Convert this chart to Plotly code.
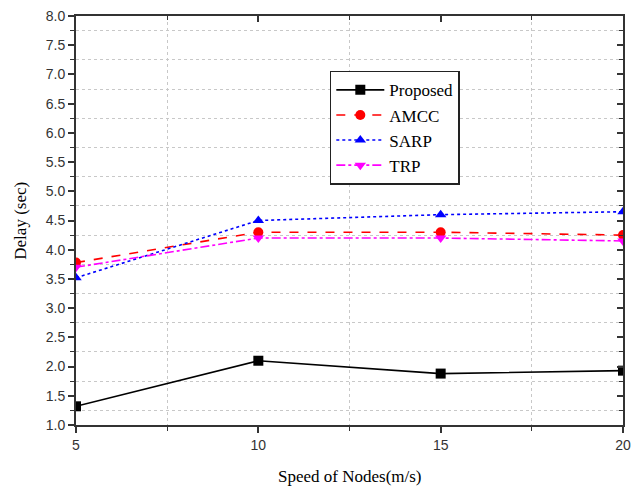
import plotly.graph_objects as go

speeds = [5, 10, 15, 20]
proposed = [1.32, 2.10, 1.88, 1.93]
amcc = [3.78, 4.30, 4.30, 4.25]
sarp = [3.52, 4.50, 4.60, 4.65]
trp = [3.70, 4.20, 4.20, 4.15]

series = [
    ("Proposed", proposed, "black", "solid", "square"),
    ("AMCC", amcc, "red", "dash", "circle"),
    ("SARP", sarp, "blue", "dot", "triangle-up"),
    ("TRP", trp, "magenta", "dashdot", "triangle-down"),
]

fig = go.Figure()
# invisible trace to anchor secondary axes (grid + mirrored inside ticks)
fig.add_trace(go.Scatter(x=[5], y=[1], xaxis="x2", yaxis="y2", mode="markers",
                         marker=dict(opacity=0), showlegend=False, hoverinfo="skip"))
for name, vals, col, dash, sym in series:
    fig.add_trace(go.Scatter(
        x=speeds, y=vals, name=name, mode="lines+markers",
        line=dict(color=col, dash=dash, width=1.6),
        marker=dict(symbol=sym, size=10, color=col),
    ))

axcol = "#333333"
gridc = "#c8c8c8"
fig.update_layout(
    width=640, height=487,
    margin=dict(l=76, r=17, t=16, b=62),
    paper_bgcolor="white", plot_bgcolor="white",
    showlegend=True,
    legend=dict(
        x=0.464, y=0.866, xanchor="left", yanchor="top",
        bordercolor="#222222", borderwidth=1.5, bgcolor="white",
        font=dict(family="Liberation Serif", size=17, color="black"),
        tracegroupgap=0, itemwidth=48,
    ),
    xaxis=dict(
        range=[5, 20], tickvals=speeds, ticktext=[str(s) for s in speeds],
        showgrid=False, zeroline=False, automargin=False,
        showline=True, linecolor=axcol, linewidth=2,
        ticks="outside", ticklen=6, tickwidth=1.5, tickcolor=axcol,
        tickfont=dict(family="Liberation Sans", size=14, color="#333333"),
        minor=dict(dtick=2.5, tick0=5, ticks="outside", ticklen=4, tickwidth=1.2,
                   tickcolor=axcol, showgrid=False),
    ),
    yaxis=dict(
        range=[1.0, 8.0], dtick=0.5, tick0=1.0, tickformat=".1f",
        showgrid=False, zeroline=False, automargin=False,
        showline=True, linecolor=axcol, linewidth=2,
        ticks="outside", ticklen=6, tickwidth=1.5, tickcolor=axcol,
        tickfont=dict(family="Liberation Sans", size=14, color="#333333"),
        minor=dict(dtick=0.25, tick0=1.0, ticks="outside", ticklen=4, tickwidth=1.2,
                   tickcolor=axcol, showgrid=False),
    ),
    xaxis2=dict(
        overlaying="x", side="top", range=[5, 20], tick0=7.5, dtick=5,
        showticklabels=False, showgrid=True, gridcolor=gridc, griddash="dot", gridwidth=1,
        zeroline=False, automargin=False,
        showline=True, linecolor=axcol, linewidth=2,
        ticks="inside", ticklen=4, tickwidth=1.2, tickcolor=axcol,
        minor=dict(dtick=2.5, tick0=5, ticks="inside", ticklen=6, tickwidth=1.5,
                   tickcolor=axcol, showgrid=False),
    ),
    yaxis2=dict(
        overlaying="y", side="right", range=[1.0, 8.0], dtick=0.5, tick0=1.25,
        showticklabels=False, showgrid=True, gridcolor=gridc, griddash="dot", gridwidth=1,
        zeroline=False, automargin=False,
        showline=True, linecolor=axcol, linewidth=2,
        ticks="inside", ticklen=4, tickwidth=1.2, tickcolor=axcol,
        minor=dict(dtick=0.25, tick0=1.0, ticks="inside", ticklen=6, tickwidth=1.5,
                   tickcolor=axcol, showgrid=False),
    ),
    annotations=[
        dict(text="Speed of Nodes(m/s)", xref="paper", yref="paper", x=0.5, y=-0.125,
             xanchor="center", yanchor="middle", showarrow=False,
             font=dict(family="Liberation Serif", size=17, color="black")),
        dict(text="Delay (sec)", xref="paper", yref="paper", x=-0.102, y=0.5,
             xanchor="center", yanchor="middle", showarrow=False, textangle=-90,
             font=dict(family="Liberation Serif", size=17, color="black")),
    ],
)

fig.write_html("out.html")
